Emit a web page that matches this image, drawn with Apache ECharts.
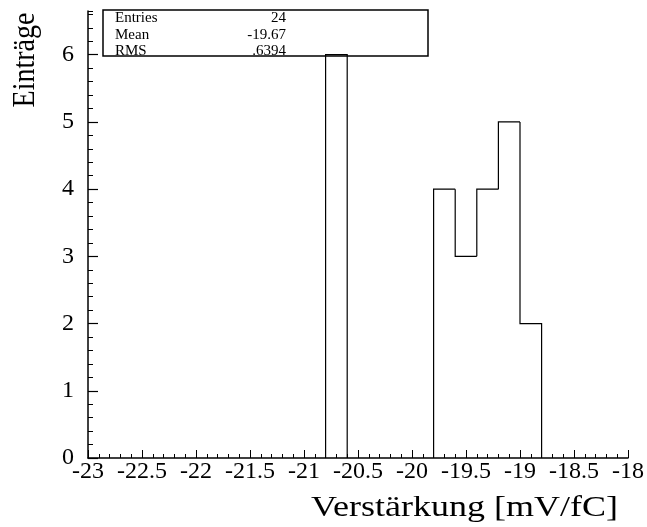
<!DOCTYPE html>
<html>
<head>
<meta charset="utf-8">
<script src="https://cdn.jsdelivr.net/npm/echarts@6/dist/echarts.min.js"></script>
<style>
html,body{margin:0;padding:0;background:#fff;}
#chart{width:647px;height:527px;}
</style>
</head>
<body>
<div id="chart"></div>
<script>
// ---- data ----
const binLow = [-20.8, -19.8, -19.6, -19.4, -19.2, -19.0];
const binCounts = [6, 4, 3, 4, 5, 2];
const binWidth = 0.2;
const xRange = [-23, -18];
const yRange = [0, 6.65];
const yTickValues = [0, 1, 2, 3, 4, 5, 6];
const statNames = ['Entries', 'Mean', 'RMS'];
const statValues = ['24', '-19.67', '.6394'];
const xTitle = 'Verstärkung [mV/fC]';
const yTitle = 'Einträge';

const FONT = '"Liberation Serif", "Times New Roman", serif';

const histData = binLow.map((lo, i) => [lo, lo + binWidth, binCounts[i]]);

function adjacent(a, b) { return Math.abs(a - b) < 1e-6; }

const chart = echarts.init(document.getElementById('chart'), null, {renderer: 'canvas'});

const statGraphics = [];
statNames.forEach((n, i) => {
  const y = 18.5 + i * 16.5;
  statGraphics.push({type: 'text', x: 115, y: y, z: 100,
    style: {text: n, fontFamily: FONT, fontSize: 15, fill: '#000', align: 'left', verticalAlign: 'middle'}});
  statGraphics.push({type: 'text', x: 286, y: y, z: 100,
    style: {text: statValues[i], fontFamily: FONT, fontSize: 15, fill: '#000', align: 'right', verticalAlign: 'middle'}});
});

const option = {
  backgroundColor: '#fff',
  animation: false,
  grid: {left: 88, right: 19, top: 11, bottom: 69, containLabel: false},
  xAxis: {
    type: 'value', min: xRange[0], max: xRange[1], interval: 0.5,
    axisLine: {show: true, lineStyle: {color: '#000', width: 1.5}},
    axisTick: {show: true, inside: true, length: 8, lineStyle: {color: '#000', width: 1}},
    minorTick: {show: true, splitNumber: 5, length: 4, lineStyle: {color: '#000', width: 1}},
    splitLine: {show: false},
    axisLabel: {color: '#000', fontFamily: FONT, fontSize: 24, margin: 2, showMinLabel: true, showMaxLabel: true}
  },
  yAxis: [
    {
      type: 'value', min: yRange[0], max: yRange[1], interval: 0.2, position: 'left', offset: 0,
      axisLine: {show: true, onZero: false, lineStyle: {color: '#000', width: 1.5}},
      axisTick: {show: true, inside: true, length: 5, lineStyle: {color: '#000', width: 1}},
      axisLabel: {show: false},
      splitLine: {show: false}
    },
    {
      type: 'value', min: yRange[0], max: yRange[1], interval: 1, position: 'left', offset: 0,
      axisLine: {show: false},
      axisTick: {show: true, inside: true, length: 10, customValues: yTickValues, lineStyle: {color: '#000', width: 1.2}},
      axisLabel: {show: true, customValues: yTickValues, color: '#000', fontFamily: FONT, fontSize: 24, margin: 14,
        formatter: v => (Math.abs(v - Math.round(v)) < 1e-6 ? String(Math.round(v)) : '')},
      splitLine: {show: false}
    }
  ],
  series: [{
    type: 'custom',
    xAxisIndex: 0, yAxisIndex: 0,
    data: histData,
    encode: {x: [0, 1], y: 2},
    renderItem: function (params, api) {
      const i = params.dataIndex;
      const lo = api.value(0), hi = api.value(1), c = api.value(2);
      const prev = (i > 0 && adjacent(binLow[i - 1] + binWidth, lo)) ? binCounts[i - 1] : 0;
      const hasNext = i < binLow.length - 1 && adjacent(binLow[i + 1], hi);
      const pts = [api.coord([lo, prev]), api.coord([lo, c]), api.coord([hi, c])];
      if (!hasNext) pts.push(api.coord([hi, 0]));
      return {type: 'polyline', shape: {points: pts}, style: {stroke: '#000', lineWidth: 1.2, fill: null}};
    },
    z: 5
  }],
  graphic: [
    {type: 'rect', z: 90, shape: {x: 103, y: 10, width: 325, height: 46},
      style: {fill: 'rgba(0,0,0,0)', stroke: '#000', lineWidth: 1.5}},
    ...statGraphics,
    {type: 'text', x: 26, y: 60, rotation: Math.PI / 2, scaleY: 1.1,
      style: {text: yTitle, fontFamily: FONT, fontSize: 28, fill: '#000', align: 'center', verticalAlign: 'middle'}},
    {type: 'text', x: 618, y: 508, scaleY: 0.8,
      style: {text: xTitle, fontFamily: FONT, fontSize: 36, fill: '#000', align: 'right', verticalAlign: 'middle'}}
  ]
};
chart.setOption(option);
</script>
</body>
</html>
